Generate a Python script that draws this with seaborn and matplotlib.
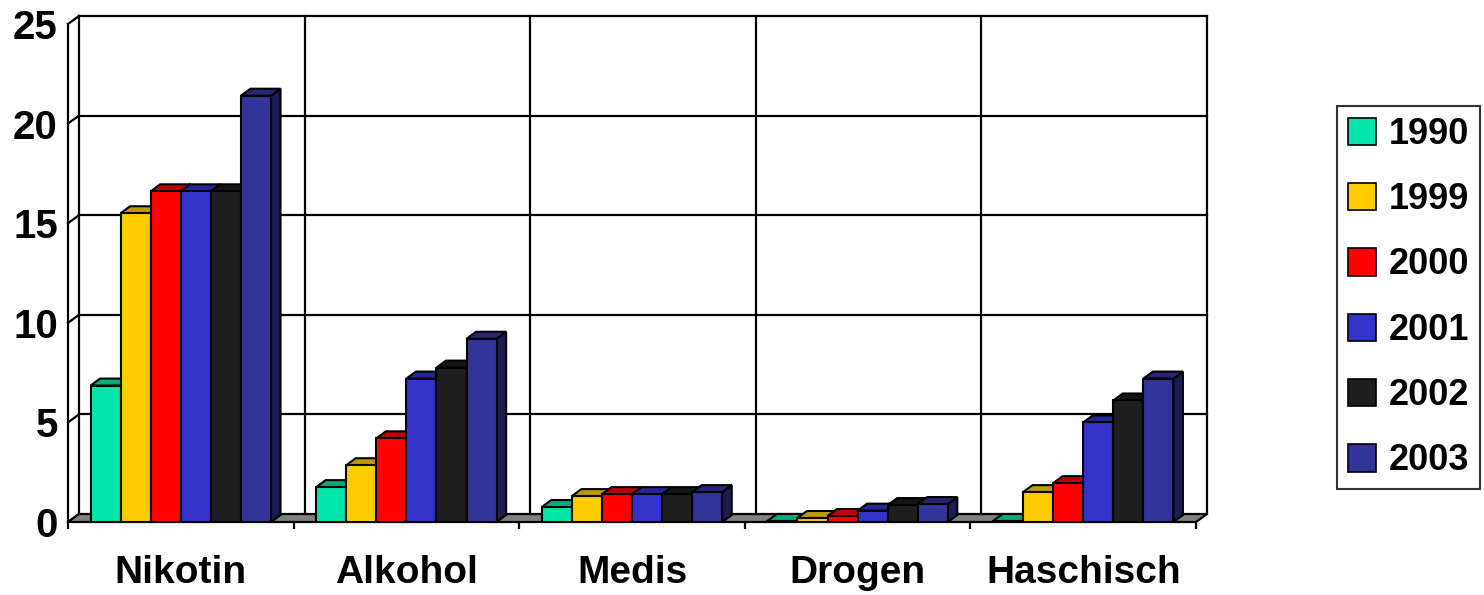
import numpy as np
import pandas as pd
import matplotlib
matplotlib.use("Agg")
import matplotlib.pyplot as plt
import matplotlib.patches as mpatches
from matplotlib.colors import to_rgb
import seaborn as sns

# ---- data -------------------------------------------------------------
categories = ["Nikotin", "Alkohol", "Medis", "Drogen", "Haschisch"]
years = ["1990", "1999", "2000", "2001", "2002", "2003"]
v1990 = [6.85, 1.75, 0.75, 0.05, 0.05]
v1999 = [15.5, 2.85, 1.3, 0.2, 1.5]
v2000 = [16.6, 4.2, 1.4, 0.3, 1.95]
v2001 = [16.6, 7.2, 1.4, 0.57, 5.0]
v2002 = [16.6, 7.75, 1.4, 0.85, 6.1]
v2003 = [21.4, 9.2, 1.5, 0.9, 7.2]
series = [v1990, v1999, v2000, v2001, v2002, v2003]
colors = ["#00E5A8", "#FFCC00", "#FF0000", "#3333CC", "#1E1E1E", "#333399"]
y_ticks = [0, 5, 10, 15, 20, 25]

df = pd.DataFrame(
    [(c, y, v) for y, vals in zip(years, series) for c, v in zip(categories, vals)],
    columns=["Substanz", "Jahr", "Anteil"],
)

# ---- style --------------------------------------------------------------
sns.set_style("white")
plt.rcParams["font.family"] = ["Liberation Sans", "DejaVu Sans"]
plt.rcParams["font.weight"] = "bold"
plt.rcParams["text.color"] = "black"
plt.rcParams["xtick.color"] = "black"
plt.rcParams["ytick.color"] = "black"

W, H = 1484, 595
fig = plt.figure(figsize=(W / 100, H / 100), dpi=100)
ax = fig.add_axes([68 / W, 73 / H, 1128 / W, 498 / H])

sns.barplot(
    data=df, x="Substanz", y="Anteil", hue="Jahr", order=categories,
    hue_order=years, palette=colors, width=0.8, saturation=1,
    edgecolor="black", linewidth=1.5, legend=False, ax=ax,
)
ax.set_xlim(-0.5, len(categories) - 0.5)
ax.set_ylim(0, 25)
ax.set_xlabel("")
ax.set_ylabel("")
ax.set_facecolor("none")

# pixel -> data conversion for the depth offsets
p0 = ax.transData.transform((0, 0))
p1 = ax.transData.transform((1, 1))
sx, sy = p1[0] - p0[0], p1[1] - p0[1]
WX, WY = 11 / sx, 8 / sy      # wall depth
BX, BY = 9.5 / sx, 7 / sy     # bar depth

x_lo, x_hi = -0.5, len(categories) - 0.5
line_kw = dict(color="black", lw=1.6, clip_on=False, zorder=1, solid_capstyle="projecting")

# floor
floor = mpatches.Polygon(
    [(x_lo, 0), (x_hi, 0), (x_hi + WX, WY), (x_lo + WX, WY)],
    closed=True, facecolor="#808080", edgecolor="black", lw=1.6,
    clip_on=False, zorder=1.5,
)
ax.add_patch(floor)

# back wall grid + left wall diagonals
for v in y_ticks[1:]:
    ax.plot([x_lo + WX, x_hi + WX], [v + WY, v + WY], **line_kw)
for b in np.arange(x_lo, x_hi + 0.01, 1.0):
    ax.plot([b + WX, b + WX], [WY, 25 + WY], **line_kw)
for v in y_ticks:
    ax.plot([x_lo, x_lo + WX], [v, v + WY], **line_kw)


def shade(c, f):
    r, g, b = to_rgb(c)
    return (r * f, g * f, b * f)


# 3-D faces for each bar
bars = sorted([p for p in ax.patches if isinstance(p, mpatches.Rectangle)],
              key=lambda p: p.get_x())
for k, p in enumerate(bars):
    xl, w, h = p.get_x(), p.get_width(), p.get_height()
    xr = xl + w
    fc = p.get_facecolor()[:3]
    p.set_zorder(3 + 0.01 * (3 * k + 2))
    top = mpatches.Polygon(
        [(xl, h), (xr, h), (xr + BX, h + BY), (xl + BX, h + BY)],
        closed=True, facecolor=shade(fc, 0.75), edgecolor="black", lw=1.5,
        zorder=3 + 0.01 * (3 * k + 1), clip_on=False,
    )
    side = mpatches.Polygon(
        [(xr, 0), (xr, h), (xr + BX, h + BY), (xr + BX, BY)],
        closed=True, facecolor=shade(fc, 0.55), edgecolor="black", lw=1.5,
        zorder=3 + 0.01 * (3 * k + 1), clip_on=False,
    )
    ax.add_patch(side)
    ax.add_patch(top)

# axes, ticks
for s in ["top", "right", "bottom"]:
    ax.spines[s].set_visible(False)
ax.spines["left"].set_linewidth(1.6)
ax.spines["left"].set_color("black")
ax.spines["left"].set_zorder(5)

ax.set_yticks(y_ticks)
ax.set_yticklabels([str(t) for t in y_ticks])
ax.tick_params(axis="y", direction="out", length=4.3, width=1.6, pad=3,
               labelsize=29, colors="black")
ax.set_xticks(range(len(categories)))
ax.set_xticklabels(categories)
ax.set_xticks(np.arange(x_lo, x_hi + 0.01, 1.0), minor=True)
ax.tick_params(axis="x", which="major", length=0, pad=24, labelsize=28,
               colors="black")
ax.tick_params(axis="x", which="minor", direction="out", length=5, width=1.6,
               color="black", bottom=True)
for lbl in ax.get_xticklabels() + ax.get_yticklabels():
    lbl.set_fontweight("bold")
    lbl.set_color("black")

# legend
handles = [mpatches.Patch(facecolor=c, edgecolor="black", linewidth=1.2, label=y)
           for c, y in zip(colors, years)]
leg = fig.legend(
    handles=handles, loc="upper left", bbox_to_anchor=(1337 / W, 1 - 106 / H),
    bbox_transform=fig.transFigure, frameon=True, fancybox=False,
    prop={"family": ["Liberation Sans", "DejaVu Sans"], "weight": "bold", "size": 26},
    handlelength=0.78, handleheight=0.78, handletextpad=0.36,
    labelspacing=0.84, borderpad=0.3, borderaxespad=0,
)
leg.get_frame().set_edgecolor("black")
leg.get_frame().set_linewidth(1.5)
for t in leg.get_texts():
    t.set_color("black")

fig.savefig("out.png", dpi=100, facecolor="white")
